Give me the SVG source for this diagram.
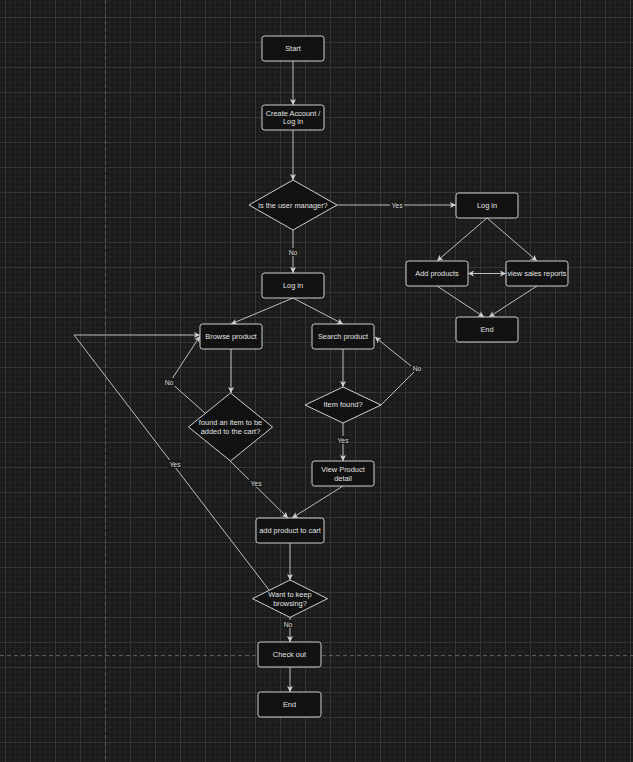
<svg xmlns="http://www.w3.org/2000/svg" width="633" height="762" viewBox="0 0 633 762">
<style>
.bg{fill:#1a1a1a}
.node rect,.node polygon{fill:#121212;stroke:#cfcfcf;stroke-width:1}
.node text{font-family:"Liberation Sans",Arial,sans-serif;font-size:7.4px;fill:#e2e2e2;text-anchor:middle;dominant-baseline:central}
.edge{fill:none;stroke:#bdbdbd;stroke-width:1}
.lbl{font-family:"Liberation Sans",Arial,sans-serif;font-size:6.8px;fill:#d8d8d8;text-anchor:middle;dominant-baseline:central}
.lblbg{fill:#1a1a1a}
.page{stroke:#5a5a5a;stroke-width:1;stroke-dasharray:4 3;fill:none}
</style>
<defs>
<pattern id="grid" x="5" y="17" width="25" height="25" patternUnits="userSpaceOnUse">
<path d="M5 0V25M10 0V25M15 0V25M20 0V25M0 5H25M0 10H25M0 15H25M0 20H25" stroke="#232323" stroke-width="1" fill="none"/>
<path d="M0.5 0V25M0 0.5H25" stroke="#363636" stroke-width="1" fill="none"/>
</pattern>
<marker id="arr" markerUnits="userSpaceOnUse" markerWidth="7" markerHeight="7" refX="6" refY="3" orient="auto-start-reverse">
<path d="M0,0 L6,3 L0,6 L1.5,3 Z" fill="#d0d0d0"/>
</marker>
</defs>
<rect class="bg" x="0" y="0" width="633" height="762"/>
<rect x="0" y="0" width="633" height="762" fill="url(#grid)"/>
<path class="page" d="M105.5 0V762M0 655.5H633"/>

<g id="connectors">
<path class="edge" d="M293 61V105" marker-end="url(#arr)"/>
<path class="edge" d="M293 130V180" marker-end="url(#arr)"/>
<path class="edge" d="M337 205H456" marker-end="url(#arr)"/>
<path class="edge" d="M293 230V273" marker-end="url(#arr)"/>
<path class="edge" d="M487 218L437 261" marker-end="url(#arr)"/>
<path class="edge" d="M487 218L537 261" marker-end="url(#arr)"/>
<path class="edge" d="M468 273.5H506" marker-start="url(#arr)" marker-end="url(#arr)"/>
<path class="edge" d="M437 286L484 317" marker-end="url(#arr)"/>
<path class="edge" d="M537 286L489 317" marker-end="url(#arr)"/>
<path class="edge" d="M293 298L231 324" marker-end="url(#arr)"/>
<path class="edge" d="M293 298L343 324" marker-end="url(#arr)"/>
<path class="edge" d="M231 349V393" marker-end="url(#arr)"/>
<path class="edge" d="M205 413L170 382L200 336" marker-end="url(#arr)"/>
<path class="edge" d="M230 461L288 518" marker-end="url(#arr)"/>
<path class="edge" d="M343 349V387" marker-end="url(#arr)"/>
<path class="edge" d="M381 405L416 370L375 337" marker-end="url(#arr)"/>
<path class="edge" d="M343 423V461" marker-end="url(#arr)"/>
<path class="edge" d="M343 486L292 518" marker-end="url(#arr)"/>
<path class="edge" d="M290 543V580" marker-end="url(#arr)"/>
<path class="edge" d="M269 590L74 335H200" marker-end="url(#arr)"/>
<path class="edge" d="M290 617V642" marker-end="url(#arr)"/>
<path class="edge" d="M290 667V692" marker-end="url(#arr)"/>
<rect class="lblbg" x="390" y="201" width="14" height="8"/><text class="lbl" x="397" y="205">Yes</text>
<rect class="lblbg" x="287" y="248" width="12" height="8"/><text class="lbl" x="293" y="252">No</text>
<rect class="lblbg" x="163" y="378" width="12" height="8"/><text class="lbl" x="169" y="382">No</text>
<rect class="lblbg" x="411" y="364" width="12" height="8"/><text class="lbl" x="417" y="368">No</text>
<rect class="lblbg" x="336" y="436" width="14" height="8"/><text class="lbl" x="343" y="440">Yes</text>
<rect class="lblbg" x="249" y="479" width="14" height="8"/><text class="lbl" x="256" y="483">Yes</text>
<rect class="lblbg" x="168" y="460" width="14" height="8"/><text class="lbl" x="175" y="464">Yes</text>
<rect class="lblbg" x="282" y="620" width="12" height="8"/><text class="lbl" x="288" y="624">No</text>
</g>

<g id="start" class="node"><rect x="262" y="36" width="62" height="25" rx="2.5"/><text x="293" y="48.5">Start</text></g>
<g id="create-account" class="node"><rect x="262" y="105" width="62" height="25" rx="2.5"/><text x="293" y="113">Create Account /</text><text x="293" y="121.5">Log in</text></g>
<g id="is-manager" class="node"><polygon points="293,180 337,205 293,230 249,205"/><text x="293" y="205">is the user manager?</text></g>
<g id="manager-login" class="node"><rect x="456" y="193" width="62" height="25" rx="2.5"/><text x="487" y="205.5">Log in</text></g>
<g id="add-products" class="node"><rect x="406" y="261" width="62" height="25" rx="2.5"/><text x="437" y="273.5">Add products</text></g>
<g id="view-sales" class="node"><rect x="506" y="261" width="62" height="25" rx="2.5"/><text x="537" y="273.5">view sales reports</text></g>
<g id="manager-end" class="node"><rect x="456" y="317" width="62" height="25" rx="2.5"/><text x="487" y="329.5">End</text></g>
<g id="user-login" class="node"><rect x="262" y="273" width="62" height="25" rx="2.5"/><text x="293" y="285.5">Log in</text></g>
<g id="browse-product" class="node"><rect x="200" y="324" width="62" height="25" rx="2.5"/><text x="231" y="336.5">Browse product</text></g>
<g id="search-product" class="node"><rect x="312" y="324" width="62" height="25" rx="2.5"/><text x="343" y="336.5">Search product</text></g>
<g id="found-item" class="node"><polygon points="230.5,393 272.5,427 230.5,461 188.5,427"/><text x="230.5" y="422.7">found an item to be</text><text x="230.5" y="431.3">added to the cart?</text></g>
<g id="item-found" class="node"><polygon points="343,387 381,405 343,423 305,405"/><text x="343" y="404.7">Item found?</text></g>
<g id="view-product" class="node"><rect x="312" y="461" width="62" height="25" rx="2.5"/><text x="343" y="469">View Product</text><text x="343" y="478.3">detail</text></g>
<g id="add-to-cart" class="node"><rect x="256" y="518" width="68" height="25" rx="2.5"/><text x="290" y="530.5">add product to cart</text></g>
<g id="keep-browsing" class="node"><polygon points="290,580 327.5,598.7 290,617.4 252.5,598.7"/><text x="290" y="594.3">Want to keep</text><text x="290" y="603.5">browsing?</text></g>
<g id="check-out" class="node"><rect x="258" y="642" width="63" height="25" rx="2.5"/><text x="289.5" y="654.5">Check out</text></g>
<g id="end" class="node"><rect x="258" y="692" width="63" height="25" rx="2.5"/><text x="289.5" y="704.5">End</text></g>
</svg>
